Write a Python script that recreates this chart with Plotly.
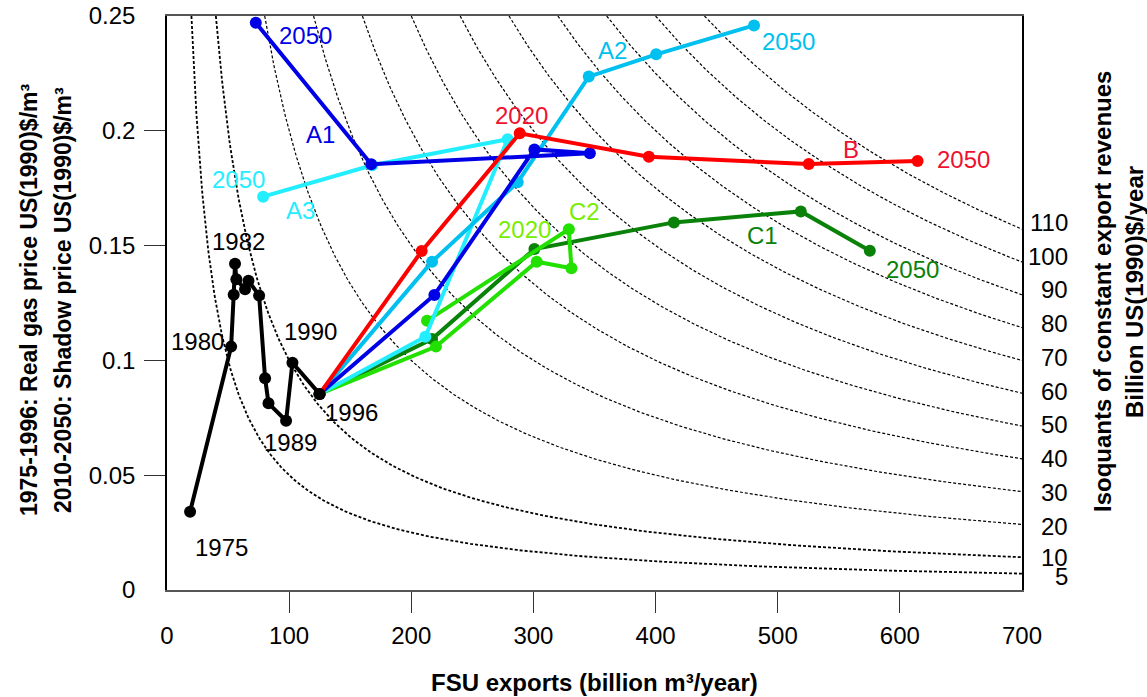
import numpy as np
import plotly.graph_objects as go

# ---------------- data ----------------
hist_x = [18.9, 52.5, 54.6, 55.7, 56.8, 63.9, 66.7, 75.4, 80.3, 83.1, 97.5, 102.7, 124.9]
hist_y = [0.0341, 0.106, 0.1286, 0.1421, 0.1353, 0.131, 0.1347, 0.1283, 0.0922, 0.0813, 0.0737, 0.099, 0.0854]

B_x = [124.9, 208.5, 288.8, 394.5, 525.4, 614.5]
B_y = [0.0854, 0.1476, 0.1989, 0.1887, 0.1855, 0.1868]
A1_x = [124.9, 218.9, 300.8, 346.2, 167.2, 72.7]
A1_y = [0.0854, 0.1285, 0.1919, 0.1902, 0.1854, 0.2471]
A2_x = [124.9, 217.0, 287.1, 345.3, 400.5, 480.6]
A2_y = [0.0854, 0.143, 0.1776, 0.2236, 0.2333, 0.2459]
A3_x = [124.9, 211.5, 278.9, 168.0, 78.7]
A3_y = [0.0854, 0.1103, 0.1963, 0.1850, 0.1713]
C1_x = [124.9, 217.0, 300.8, 415.0, 518.9, 575.4]
C1_y = [0.0854, 0.1093, 0.1485, 0.1601, 0.1649, 0.1478]
C2_x = [124.9, 220.2, 302.7, 331.1, 329.0, 212.9]
C2_y = [0.0854, 0.106, 0.143, 0.1401, 0.1571, 0.1173]

revenues = [5, 10, 20, 30, 40, 50, 60, 70, 80, 90, 100, 110]  # billion US(1990)$/year
x_ticks = [0, 100, 200, 300, 400, 500, 600, 700]
y_ticks = [0, 0.05, 0.1, 0.15, 0.2, 0.25]
y_ticktext = ["0", "0.05", "0.1", "0.15", "0.2", "0.25"]
X_MAX = 700
Y_MAX = 0.25

# ---------------- style ----------------
FONT = "Liberation Sans, Arial, sans-serif"
RED = "#ff0000"
RED_T = "#f01030"
BLUE = "#0000e6"
SKY = "#00c0f0"
CYAN = "#22eeff"
DKG = "#0a820a"
LIME = "#22e000"
LIME_T = "#77ee00"

fig = go.Figure()

# isoquants: price = revenue / exports
for r in revenues:
    xs = np.geomspace(r / Y_MAX, X_MAX, 200)
    fig.add_trace(go.Scatter(
        x=xs, y=r / xs, mode="lines", hoverinfo="skip", showlegend=False,
        line=dict(color="black", width=1.8 if r <= 10 else 1.2, dash="3px,2px")))

def scen(x, y, color):
    fig.add_trace(go.Scatter(x=x, y=y, mode="lines+markers", showlegend=False,
                             line=dict(color=color, width=4),
                             marker=dict(color=color, size=12)))

scen(C1_x, C1_y, DKG)
scen(C2_x, C2_y, LIME)
scen(A3_x, A3_y, CYAN)
scen(A2_x, A2_y, SKY)
scen(A1_x, A1_y, BLUE)
scen(B_x, B_y, RED)
fig.add_trace(go.Scatter(x=hist_x, y=hist_y, mode="lines+markers", showlegend=False,
                         line=dict(color="black", width=4),
                         marker=dict(color="black", size=12)))

# ---------------- labels ----------------
labels = [
    ("2050", 113.0, 0.2413, BLUE), ("A1", 125.8, 0.1982, BLUE),
    ("2050", 58.9, 0.1786, CYAN), ("A3", 108.9, 0.1655, CYAN),
    ("2020", 290.4, 0.2065, RED_T), ("B", 559.8, 0.1919, RED_T), ("2050", 651.7, 0.1876, RED_T),
    ("A2", 365.1, 0.2349, SKY), ("2050", 508.9, 0.2388, SKY),
    ("C1", 487.7, 0.1546, DKG), ("2050", 610.0, 0.1394, DKG),
    ("C2", 341.4, 0.1648, LIME_T), ("2020", 292.3, 0.1568, LIME_T),
    ("1982", 58.9, 0.1517, "black"), ("1980", 24.8, 0.1081, "black"),
    ("1990", 117.1, 0.1125, "black"), ("1996", 151.2, 0.0772, "black"),
    ("1989", 100.7, 0.0642, "black"), ("1975", 44.8, 0.0184, "black"),
]
for t, x, y, c in labels:
    fig.add_annotation(x=x, y=y, xref="x", yref="y", text=t, showarrow=False,
                       font=dict(family=FONT, size=24, color=c))

# right-hand isoquant labels (placed where each isoquant meets the right border)
for r in revenues:
    fig.add_annotation(x=1.0562, y=r / X_MAX, xref="paper", yref="y", text=str(r),
                       showarrow=False, xanchor="right", yanchor="middle",
                       yshift=0.093 * r - 3.5 + (2 if r == 10 else 0),
                       font=dict(family=FONT, size=24, color="black"))

def ptitle(text, px, py, angle=-90, size=23):
    fig.add_annotation(x=(px - 167) / 855, y=(590 - py) / 574, xref="paper", yref="paper",
                       text="<b>" + text + "</b>", showarrow=False, textangle=angle,
                       xanchor="center", yanchor="middle",
                       font=dict(family=FONT, size=size, color="black"))

ptitle("FSU exports (billion m³/year)", 594, 683, angle=0, size=24)
ptitle("1975-1996: Real gas price US(1990)$/m³", 29, 300)
ptitle("2010-2050: Shadow price US(1990)$/m³", 63, 300)
ptitle("Isoquants of constant export revenues", 1102, 292, size=24)
ptitle("Billion US(1990)$/year", 1134, 292, size=24)

fig.update_layout(
    width=1147, height=697, autosize=False,
    margin=dict(l=167, r=125, t=16, b=107, autoexpand=False),
    paper_bgcolor="white", plot_bgcolor="white",
    font=dict(family=FONT, size=24, color="black"),
    xaxis=dict(range=[0, X_MAX], tickvals=x_ticks, ticktext=[str(v) for v in x_ticks],
               showgrid=False, zeroline=False, showline=True, linecolor="#555",
               linewidth=1.5, mirror=True, ticks="", ticklabelstandoff=23, automargin=False,
               ticklabeloverflow="allow",
               minor=dict(tickvals=x_ticks[1:-1], ticks="outside", ticklen=21,
                          tickcolor="#333", tickwidth=1.2, showgrid=False),
               tickfont=dict(size=24)),
    yaxis=dict(range=[0, Y_MAX], tickvals=y_ticks, ticktext=y_ticktext,
               showgrid=False, zeroline=False, showline=True, linecolor="black",
               linewidth=1.5, mirror=True, ticks="", ticklabelstandoff=25, automargin=False,
               ticklabeloverflow="allow",
               minor=dict(tickvals=y_ticks[1:-1], ticks="outside", ticklen=21,
                          tickcolor="#333", tickwidth=1.2, showgrid=False),
               tickfont=dict(size=24)),
)

fig.write_html("out.html", config={"displayModeBar": False},
               post_script="document.body.style.margin='0';document.body.style.overflow='hidden';")
